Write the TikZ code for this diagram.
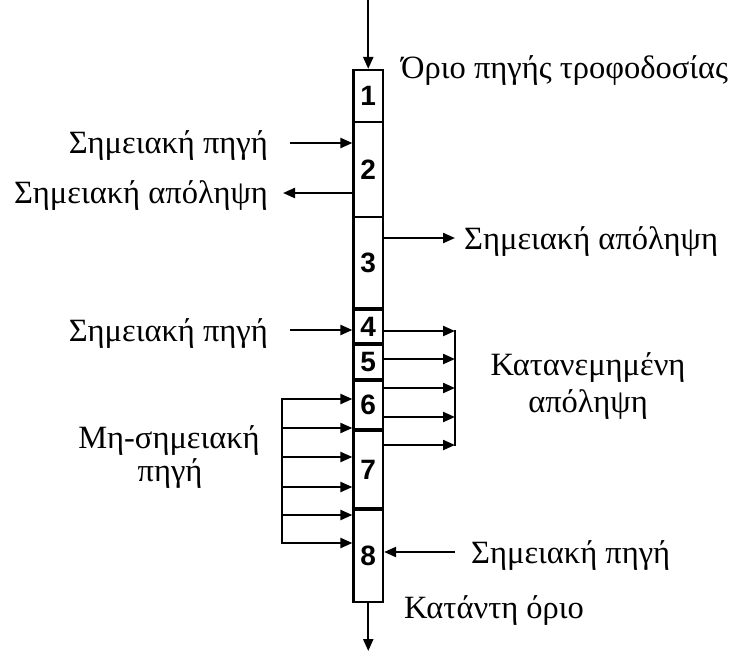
\documentclass[tikz,border=0pt]{standalone}
\usepackage{fontspec}
\setmainfont{Liberation Serif}
\newfontfamily\numfont{Liberation Sans}
\usetikzlibrary{arrows.meta,calc}
\begin{document}
\begin{tikzpicture}[x=1pt,y=-1pt,
  cell/.style={draw, line width=2.2pt, minimum width=29.5pt, inner sep=0pt,
    font=\numfont\bfseries\fontsize{28}{28}\selectfont},
  lbl/.style={inner sep=0pt, font=\fontsize{32.5}{38}\selectfont},
  arr/.style={line width=2.2pt, -{Triangle[length=12pt,width=10pt]}},
  ln/.style={line width=2.2pt, line cap=rect}]
\useasboundingbox (0,0) rectangle (730,651);
% cells
\node[cell, minimum height=52pt] (c1) at (368.25,96) {1};
\node[cell, minimum height=95pt] (c2) at (368.25,169.5) {2};
\node[cell, minimum height=91pt] (c3) at (368.25,262.5) {3};
\node[cell, minimum height=33pt] (c4) at (368.25,326.5) {4};
\node[cell, minimum height=34pt] (c5) at (368.25,362) {5};
\node[cell, minimum height=48pt] (c6) at (368.25,405) {6};
\node[cell, minimum height=77pt] (c7) at (368.25,469.5) {7};
\node[cell, minimum height=92pt] (c8) at (368.25,556) {8};
% top and bottom
\coordinate (t0) at (368.25,0);
\draw[arr] (t0) -- (c1.north);
\coordinate (b0) at (368.25,651);
\draw[arr] (c8.south) -- (b0);
% point sources / withdrawals
\coordinate (p2) at (290,143);
\draw[arr] (p2) -- (p2 -| c2.west);
\coordinate (q2) at (283,193);
\draw[arr] (q2 -| c2.west) -- (q2);
\coordinate (q3) at (455,238);
\draw[arr] (q3 -| c3.east) -- (q3);
\coordinate (p4) at (290,330);
\draw[arr] (p4) -- (p4 -| c4.west);
\coordinate (p8) at (455,552);
\draw[arr] (p8) -- (p8 -| c8.east);
% distributed withdrawal
\coordinate (d1) at (455,331);
\coordinate (d2) at (455,359);
\coordinate (d3) at (455,388);
\coordinate (d4) at (455,417);
\coordinate (d5) at (455,445);
\draw[arr] (d1 -| c4.east) -- (d1);
\draw[arr] (d2 -| c5.east) -- (d2);
\draw[arr] (d3 -| c6.east) -- (d3);
\draw[arr] (d4 -| c6.east) -- (d4);
\draw[arr] (d5 -| c7.east) -- (d5);
\draw[ln] (d1) -- (d5);
% non-point source
\coordinate (n1) at (282,399);
\coordinate (n2) at (282,428);
\coordinate (n3) at (282,457);
\coordinate (n4) at (282,487);
\coordinate (n5) at (282,515);
\coordinate (n6) at (282,543);
\draw[ln] (n1) -- (n6);
\draw[arr] (n1) -- (n1 -| c6.west);
\draw[arr] (n2) -- (n2 -| c6.west);
\draw[arr] (n3) -- (n3 -| c7.west);
\draw[arr] (n4) -- (n4 -| c7.west);
\draw[arr] (n5) -- (n5 -| c8.west);
\draw[arr] (n6) -- (n6 -| c8.west);
% labels
\node[lbl, anchor=base west] (Ltop) at (401,78) {Όριο πηγής τροφοδοσίας};
\node[lbl, anchor=base east] (L2a) at (268,153) {Σημειακή πηγή};
\node[lbl, anchor=base east] (L2b) at (268,203) {Σημειακή απόληψη};
\node[lbl, anchor=base west] (L3) at (464,249) {Σημειακή απόληψη};
\node[lbl, anchor=base east] (L4) at (268,341) {Σημειακή πηγή};
\node[lbl, anchor=base] (Ld1) at (588,375) {Κατανεμημένη};
\node[lbl, anchor=base] (Ld2) at (588,412) {απόληψη};
\node[lbl, anchor=base] (Ln1) at (169,448) {Μη-σημειακή};
\node[lbl, anchor=base] (Ln2) at (170,481) {πηγή};
\node[lbl, anchor=base west] (L8) at (471,563) {Σημειακή πηγή};
\node[lbl, anchor=base west] (Lbot) at (404,618) {Κατάντη όριο};
\end{tikzpicture}
\end{document}
